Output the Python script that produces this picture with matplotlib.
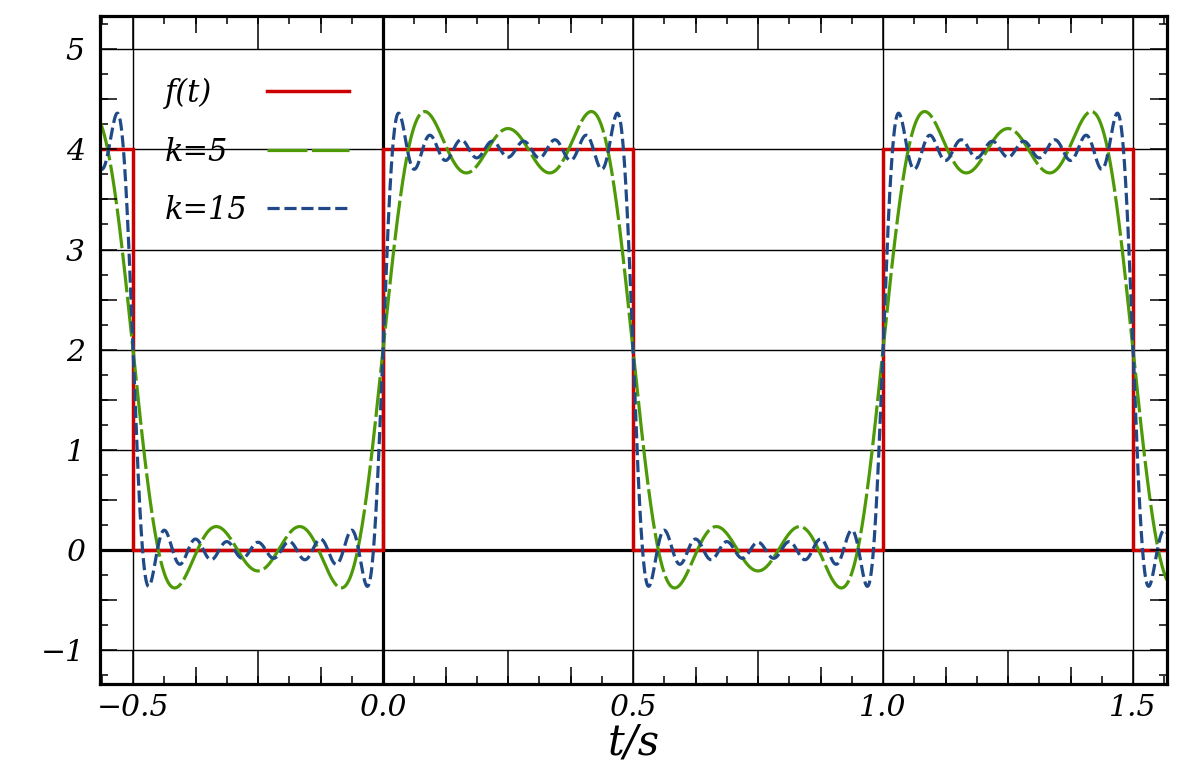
import numpy as np
import matplotlib
matplotlib.use("Agg")
import matplotlib.pyplot as plt
from matplotlib.ticker import FixedLocator, FuncFormatter

# ---- data ----
# square wave f(t): levels between the jump points
jump_times = [-0.5, 0.0, 0.5, 1.0, 1.5]
levels = [4, 0, 4, 0, 4, 0]
low_level, high_level, period = 0.0, 4.0, 1.0
# Fourier partial sums: odd harmonics up to k
harmonics_k5 = [1, 3, 5]
harmonics_k15 = [1, 3, 5, 7, 9, 11, 13, 15]
series_labels = ["f(t)", "k=5", "k=15"]
x_tick_values = [-0.5, 0.0, 0.5, 1.0, 1.5]
y_tick_values = [-1, 0, 1, 2, 3, 4, 5]
x_limits = (-0.566, 1.568)
y_limits = (-1.335, 5.33)

# ---- figure ----
W, H = 1200, 767
fig = plt.figure(figsize=(W / 100, H / 100), dpi=100)
pos = [100 / W, 1 - 684 / H, (1167 - 100) / W, (684 - 16) / H]
ax = fig.add_axes(pos)
ax2 = fig.add_axes(pos, frameon=False)
ax2.patch.set_visible(False)

FONT = dict(family="DejaVu Serif", style="italic")
red, green, blue = "#cc0000", "#4e9a06", "#204a87"

t = np.linspace(x_limits[0], x_limits[1], 4000)
mean = (low_level + high_level) / 2
amp = (high_level - low_level) / 2


def partial_sum(harms):
    y = np.full_like(t, mean)
    for n in harms:
        y += amp * 4 / np.pi * np.sin(2 * np.pi * n * t / period) / n
    return y


# square wave path
xs = [x_limits[0]]
ys = [levels[0]]
for i, jt in enumerate(jump_times):
    xs += [jt, jt]
    ys += [levels[i], levels[i + 1]]
xs.append(x_limits[1])
ys.append(levels[-1])

for a in (ax, ax2):
    a.set_xlim(*x_limits)
    a.set_ylim(*y_limits)

# grid and thick zero lines
ax.set_xticks(x_tick_values)
ax.set_yticks(y_tick_values)
ax.grid(True, which="major", color="black", lw=1.0, zorder=1)
ax.axhline(0, color="black", lw=2.3, zorder=1.5)
ax.axvline(0, color="black", lw=2.3, zorder=1.5)

lf, = ax.plot(xs, ys, color=red, lw=2.5, zorder=3, solid_joinstyle="miter")
l5, = ax.plot(t, partial_sum(harmonics_k5), color=green, lw=2.3, zorder=4)
l5.set_dashes((12.5, 1.4))
l15, = ax.plot(t, partial_sum(harmonics_k15), color=blue, lw=2.3, zorder=5)
l15.set_dashes((3.8, 1.5))

# ticks on main axes: labelled majors at 0.5 / 1, minors at 1/16 / 0.25
ax.xaxis.set_minor_locator(FixedLocator(np.arange(-0.5625, 1.6, 0.0625)))
ax.yaxis.set_minor_locator(FixedLocator(np.arange(-1.25, 5.3, 0.25)))
ax.tick_params(which="major", direction="in", length=0, width=1.1,
               top=True, right=True, labelsize=21.5)
ax.tick_params(which="minor", direction="in", length=6, width=1.1,
               top=True, right=True)
ax.tick_params(axis="x", which="major", pad=7)
ax.tick_params(axis="y", which="major", pad=11)
fmt = FuncFormatter(lambda v, p: f"{v:.1f}".replace("-", "\u2212"))
ax.xaxis.set_major_formatter(fmt)
ax.yaxis.set_major_formatter(FuncFormatter(lambda v, p: f"{int(round(v))}".replace("-", "\u2212")))
for lab in ax.get_xticklabels() + ax.get_yticklabels():
    lab.set_fontfamily("DejaVu Serif")
    lab.set_fontstyle("italic")

# second axes for longer ticks
ax2.xaxis.set_major_locator(FixedLocator(np.arange(-0.5, 1.6, 0.25)))
ax2.xaxis.set_minor_locator(FixedLocator(np.arange(-0.5, 1.6, 0.125)))
ax2.yaxis.set_major_locator(FixedLocator(np.arange(-1.0, 5.3, 0.5)))
ax2.yaxis.set_minor_locator(FixedLocator([]))
ax2.tick_params(axis="x", which="major", direction="in", length=24, width=1.1,
                top=True, bottom=True, labelbottom=False)
ax2.tick_params(axis="x", which="minor", direction="in", length=12, width=1.1,
                top=True, bottom=True)
ax2.tick_params(axis="y", which="major", direction="in", length=12, width=1.1,
                left=True, right=True, labelleft=False)

for s in ax.spines.values():
    s.set_linewidth(2.3)
    s.set_zorder(6)

ax.set_xlabel("t/s", fontsize=30, labelpad=0, **FONT)

# legend: left-aligned labels, handles in a separate aligned column
handles = [lf, l5, l15]
leg_kw = dict(loc="upper left", frameon=False, labelspacing=0.9, borderpad=0,
              borderaxespad=0, prop=dict(family="DejaVu Serif", style="italic", size=22))
top_y = 0.907
leg_text = ax.legend(handles, series_labels, bbox_to_anchor=(0.0609, top_y),
                     handlelength=0, handletextpad=0, **leg_kw)
for h in leg_text.legend_handles:
    h.set_visible(False)
ax.add_artist(leg_text)
ax.legend(handles, [" "] * len(handles), bbox_to_anchor=(0.1565, top_y),
          handlelength=2.7, handletextpad=0, **leg_kw)

fig.savefig("out.png", dpi=100)
